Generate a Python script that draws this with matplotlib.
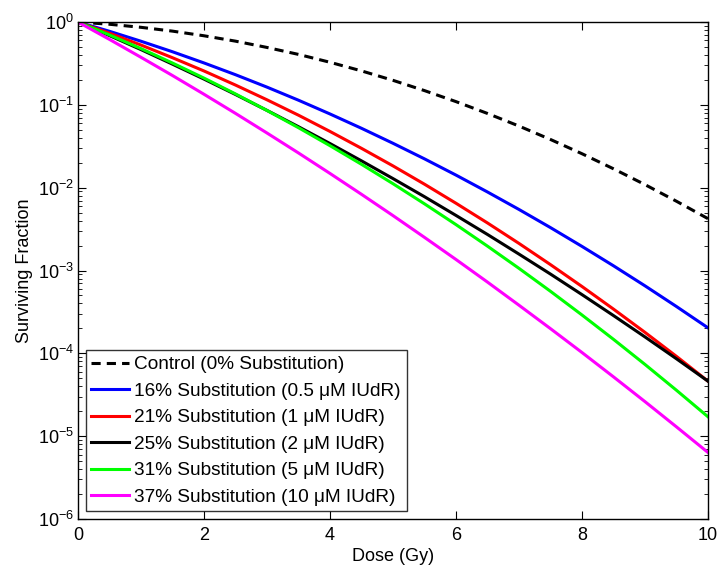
import numpy as np
import matplotlib
matplotlib.use("Agg")
import matplotlib.pyplot as plt
from matplotlib.ticker import LogLocator, NullFormatter

plt.rcParams["font.family"] = ["Liberation Sans", "DejaVu Sans"]

# dose points (Gy)
dose = [0, 0.5, 1, 1.5, 2, 2.5, 3, 3.5, 4, 4.5, 5, 5.5, 6, 6.5, 7, 7.5, 8, 8.5, 9, 9.5, 10]

# log10 of surviving fraction
control = [0, -0.027, -0.064, -0.110, -0.166, -0.231, -0.307, -0.391, -0.486, -0.590, -0.704,
           -0.828, -0.961, -1.104, -1.256, -1.418, -1.590, -1.772, -1.963, -2.164, -2.374]
iudr_05 = [0, -0.112, -0.232, -0.359, -0.494, -0.636, -0.786, -0.944, -1.110, -1.283, -1.464,
           -1.652, -1.848, -2.052, -2.263, -2.482, -2.709, -2.943, -3.185, -3.435, -3.692]
iudr_1 = [0, -0.135, -0.278, -0.431, -0.591, -0.761, -0.939, -1.125, -1.321, -1.525, -1.737,
          -1.958, -2.188, -2.426, -2.673, -2.929, -3.193, -3.466, -3.747, -4.037, -4.336]
iudr_2 = [0, -0.164, -0.333, -0.509, -0.689, -0.875, -1.067, -1.264, -1.467, -1.676, -1.890,
          -2.109, -2.335, -2.565, -2.802, -3.043, -3.291, -3.544, -3.802, -4.066, -4.336]
iudr_5 = [0, -0.156, -0.321, -0.495, -0.677, -0.868, -1.068, -1.276, -1.493, -1.718, -1.952,
          -2.195, -2.446, -2.706, -2.974, -3.251, -3.537, -3.831, -4.134, -4.446, -4.766]
iudr_10 = [0, -0.210, -0.426, -0.646, -0.872, -1.103, -1.340, -1.581, -1.828, -2.080, -2.337,
           -2.600, -2.867, -3.140, -3.419, -3.702, -3.990, -4.284, -4.583, -4.888, -5.197]

labels = ["Control (0% Substitution)",
          "16% Substitution (0.5 μM IUdR)",
          "21% Substitution (1 μM IUdR)",
          "25% Substitution (2 μM IUdR)",
          "31% Substitution (5 μM IUdR)",
          "37% Substitution (10 μM IUdR)"]
colors = ["black", "#0000ff", "#ff0000", "black", "#00ff00", "#ff00ff"]
series = [control, iudr_05, iudr_1, iudr_2, iudr_5, iudr_10]

fig = plt.figure(figsize=(7.2, 5.69), dpi=100)
ax = fig.add_axes([0.1083, 0.0879, 0.875, 0.8734])

for i, s in enumerate(series):
    y = 10 ** np.array(s)
    if i == 0:
        ax.plot(dose, y, color=colors[i], lw=2.2, dashes=(3.0, 2.0), label=labels[i])
    else:
        ax.plot(dose, y, color=colors[i], lw=2.2, label=labels[i])

ax.set_yscale("log")
ax.set_xlim(0, 10)
ax.set_ylim(1e-6, 1)
ax.set_xticks([0, 2, 4, 6, 8, 10])
ax.yaxis.set_major_locator(LogLocator(base=10, numticks=10))
ax.yaxis.set_minor_locator(LogLocator(base=10, subs=np.arange(2, 10), numticks=20))
ax.yaxis.set_minor_formatter(NullFormatter())
ax.tick_params(which="both", direction="in", top=True, right=True, labelsize=13)
ax.tick_params(which="major", length=6, width=0.8)
ax.tick_params(which="minor", length=3, width=0.6)
ax.tick_params(axis="x", pad=6)
ax.tick_params(axis="y", pad=3)
for sp in ax.spines.values():
    sp.set_linewidth(1.0)

ax.set_xlabel("Dose (Gy)", fontsize=13, labelpad=3)
ax.set_ylabel("Surviving Fraction", fontsize=13, labelpad=3)

leg = ax.legend(loc="lower left", fontsize=13.7, handlelength=2.0, handletextpad=0.27,
                labelspacing=0.48, borderaxespad=0.4, borderpad=0.3, fancybox=False)
leg.get_frame().set_edgecolor("black")
leg.get_frame().set_linewidth(1.0)

fig.savefig("out.png", dpi=100)
